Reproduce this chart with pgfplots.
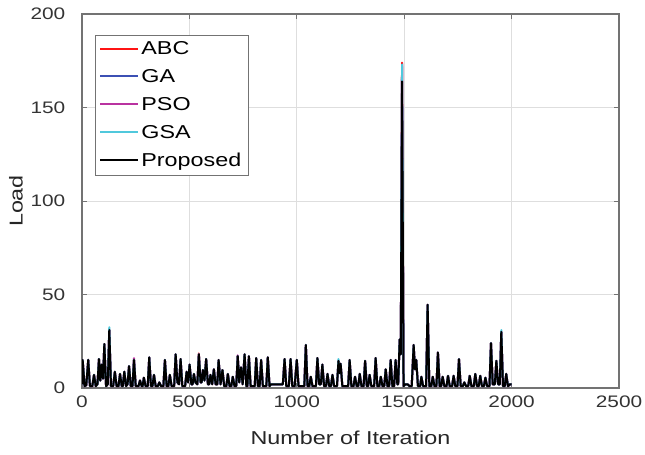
\documentclass[border=0pt]{standalone}
\usepackage{fontspec}
\setmainfont[FakeStretch=1.25]{Liberation Sans}
\usepackage{pgfplots}
\usepackage{pgfplotstable}
\pgfplotsset{compat=1.18}
\definecolor{cABC}{RGB}{255,20,20}
\definecolor{cGA}{RGB}{60,80,180}
\definecolor{cPSO}{RGB}{185,50,160}
\definecolor{cGSA}{RGB}{80,200,220}
\pgfplotstableread{
x abc ga pso gsa prop
0 2 2 2 2 2
3 15 15 15 15 15
12 1 1 1 1 1
20 1.5 1.5 1.5 1.5 1.5
29 15 15 15 15 15
37 1 1 1 1 1
48 1 1 1 1 1
56 7 7 7 7 7
64 1 1 1 1 1
72 2 2 2 2 2
79 15.5 15.5 15.5 15.5 15.5
85 4 4 4 4 4
92 12.5 12.5 12.5 12.5 12.5
98 5 5 5 5 5
104 23.5 23.5 23.5 23.5 23.5
112 1 1 1 1 1
120 2 2 2 2 2
127 31 31 31 32.5 31
135 1 1 1 1 1
145 1 1 1 1 1
153 8.7 8.7 8.7 8.7 8.7
161 1 1 1 1 1
170 1 1 1 1 1
177 7.5 7.5 7.5 7.5 7.5
185 1 1 1 1 1
190 1 1 1 1 1
197 8.7 8.7 8.7 8.7 8.7
205 1 1 1 1 1
212 2 2 2 2 2
219 11.7 11.7 11.7 11.7 11.7
227 1 1 1 1 1
235 1 1 1 1 1
242 15 15 16 15 15
250 1 1 1 1 1
263 1 1 1 1 1
270 4 4 4 4 4
278 1 1 1 1 1
282 1 1 1 1 1
288 5.5 5.5 5.5 5.5 5.5
296 1 1 1 1 1
306 1 1 1 1 1
313 16.4 16.4 16.4 16.4 16.4
321 1 1 1 1 1
328 1 1 1 1 1
335 7 7 7 7 7
343 1 1 1 1 1
353 1 1 1 1 1
360 3 3 3 3 3
368 1 1 1 1 1
379 1 1 1 1 1
386 15 15 15 15 15
394 1 1 1 1 1
402 1 1 1 1 1
409 7 7 7 7 7
417 1 1 1 1 1
429 1 1 1 1 1
436 18 18 18 18 18
444 3 3 3 3 3
452 2 2 2 2 2
459 15.5 15.5 15.5 15.5 15.5
467 1 1 1 1 1
480 1 1 1 1 1
487 8.7 8.7 8.7 8.7 8.7
494 3 3 3 3 3
501 12.5 12.5 12.5 12.5 12.5
509 2 2 2 2 2
515 2 2 2 2 2
521 7.5 7.5 7.5 7.5 7.5
528 3 3 3 3 3
537 2 2 2 2 2
544 18.5 18 18 18 18
552 3 3 3 3 3
557 3 3 3 3 3
563 9.6 9.6 9.6 9.6 9.6
570 4 4 4 4 4
578 15.5 15.5 15.5 15.5 15.5
586 2 2 2 2 2
592 2 2 2 2 2
598 7 7 7 7 7
606 2 2 2 2 2
614 10 10 10 10 10
622 2 2 2 2 2
630 2 2 2 2 2
636 15 15 15 15 15
645 2 2 2 2 2
654 9.6 9.6 9.6 9.6 9.6
662 1 1 1 1 1
672 1 1 1 1 1
679 7.5 7.5 7.5 7.5 7.5
687 1 1 1 1 1
695 1 1 1 1 1
702 6 6 6 6 6
710 1 1 1 1 1
718 1 1 1 1 1
725 17 17 17.5 17 17
732 3 3 3 3 3
740 11 11 11 11 11
748 2 2 2 2 2
757 18 18 18 18 18
765 1 1 1 1 1
770 1 1 1 1 1
777 17 17 17 17 17
785 1 1 1 1 1
804 1 1 1 1 1
811 16 16 16 16 16
819 1 1 1 1 1
827 1 1 1 1 1
834 15 15 15 15 15
842 1 1 1 1 1
858 1 1 1 1 1
865 16.4 16.4 16.4 16.4 16.4
873 1 1 1 1 1
880 2 2 2 2 2
935 2 2 2 2 2
943 15.5 15.5 15.5 15.5 15.5
951 1 1 1 1 1
963 1 1 1 1 1
971 15.5 15.5 15.5 15.5 15.5
979 1 1 1 1 1
990 1 1 1 1 1
1000 15 15 15 15 15
1008 1 1 1 1 1
1035 1 1 1 1 1
1042 23 23 23 23 23
1050 1 1 1 1 1
1058 1 1 1 1 1
1065 6 6 6 6 6
1073 1 1 1 1 1
1089 1 1 1 1 1
1096 16 16 16 16 16
1104 2 2 2 2 2
1112 2 2 2 2 2
1119 12.5 12.5 12.5 12.5 12.5
1127 1 1 1 1 1
1136 1 1 1 1 1
1143 7.5 7.5 7.5 7.5 7.5
1151 1 1 1 1 1
1159 1 1 1 1 1
1166 7 7 7 7 7
1174 1 1 1 1 1
1187 1 1 1 1 1
1194 14.5 14.5 14.5 15.5 14.5
1199 8 8 8 8 8
1204 13 13 13 13 13
1212 1 1 1 1 1
1239 1 1 1 1 1
1246 15 15 15 15 15
1254 1 1 1 1 1
1264 1 1 1 1 1
1271 6 6 6 6 6
1279 1 1 1 1 1
1286 1 1 1 1 1
1293 7.5 7.5 7.5 7.5 7.5
1301 1 1 1 1 1
1311 1 1 1 1 1
1318 14.5 14.5 14.5 14.5 14.5
1326 1 1 1 1 1
1332 1 1 1 1 1
1339 7 7 7 7 7
1347 1 1 1 1 1
1360 1 1 1 1 1
1367 16 16 16 16 16
1375 1 1 1 1 1
1384 1 1 1 1 1
1391 6 6 6 6 6
1399 1 1 1 1 1
1407 1 1 1 1 1
1414 10 10 10 10 10
1422 1 1 1 1 1
1430 1 1 1 1 1
1437 15 15 15 15 15
1445 1 1 1 1 1
1453 1 1 1 1 1
1460 15 15 15 15 15
1468 2 2 2 2 2
1472 2 2 2 2 2
1479 26 26 26 26 26
1484 18 18 18 18 18
1490 174 172 173 173 164
1497 1 1 1 1 1
1505 2 2 2 2 2
1515 2 2 2 2 2
1525 1 1 1 1 1
1535 1 1 1 1 1
1544 23 23 23 23 23
1550 10 10 10 10 10
1556 15 15 15 15 15
1564 1 1 1 1 1
1574 1 1 1 1 1
1580 6 6 6 6 6
1588 1 1 1 1 1
1602 1 1 1 1 1
1609 44.5 44.5 44.5 44.5 44.5
1617 1 1 1 1 1
1626 1 1 1 1 1
1633 6 6 6 6 6
1641 1 1 1 1 1
1650 1 1 1 1 1
1657 19 19 19 19 19
1665 1 1 1 1 1
1672 1 1 1 1 1
1679 6 6 6 6 6
1687 1 1 1 1 1
1697 1 1 1 1 1
1704 6.5 6.5 6.5 6.5 6.5
1712 1 1 1 1 1
1723 1 1 1 1 1
1730 6.5 6.5 6.5 6.5 6.5
1738 1 1 1 1 1
1748 1 1 1 1 1
1755 15.4 15.4 15.4 15.4 15.4
1763 1 1 1 1 1
1773 1 1 1 1 1
1780 3 3 3 3 3
1788 1 1 1 1 1
1798 1 1 1 1 1
1805 6.5 6.5 6.5 6.5 6.5
1813 1 1 1 1 1
1824 1 1 1 1 1
1831 7.5 7.5 7.5 7.5 7.5
1839 1 1 1 1 1
1847 1 1 1 1 1
1854 6.5 6.5 6.5 6.5 6.5
1862 1 1 1 1 1
1871 1 1 1 1 1
1878 5.5 5.5 5.5 5.5 5.5
1886 1 1 1 1 1
1897 1 1 1 1 1
1904 24 24 24 24 24
1912 2 2 2 2 2
1922 2 2 2 2 2
1929 14.5 14.5 14.5 14.5 14.5
1937 2 2 2 2 2
1945 2 2 2 2 2
1952 30 30 30 31 30
1960 1 1 1 1 1
1968 1 1 1 1 1
1975 7.5 7.5 7.5 7.5 7.5
1983 1 1 1 1 1
1993 2 2 2 2 2
2000 2 2 2 2 2
}\loadtable
\begin{document}
\begin{tikzpicture}
\begin{axis}[
  scale only axis,
  width=402.75pt, height=280.5pt,
  xmin=0, xmax=2500, ymin=0, ymax=200,
  xtick={0,500,1000,1500,2000,2500},
  ytick={0,50,100,150,200},
  /pgf/number format/assume math mode=true,
  /pgf/number format/1000 sep={},
  scaled x ticks=false,
  xticklabel style={font=\fontsize{12.5}{15}\selectfont, color=black!80, yshift=-2pt},
  yticklabel style={font=\fontsize{12.5}{15}\selectfont, color=black!80, xshift=-9pt},
  grid=major,
  grid style={black!13, line width=0.5pt},
  axis line style={black!55, line width=0.8pt},
  tick style={black!55, line width=0.6pt},
  major tick length=4pt,
  tick align=inside,
  xlabel={Number of Iteration},
  ylabel={Load},
  label style={font=\fontsize{14}{17}\selectfont, color=black!85},
  xlabel style={at={(axis description cs:0.5,-0.1337)}, anchor=center},
  ylabel style={at={(axis description cs:-0.1229,0.5)}, anchor=center},
  legend style={at={(axis description cs:0.0242,0.944)}, anchor=north west,
    draw=black!55, fill=white, font=\fontsize{14}{17}\selectfont,
    row sep=5.5pt, inner sep=3pt},
  legend cell align=left,
  legend image code/.code={\draw[#1, line width=1.6pt] (0pt,0.6pt) -- (28pt,0.6pt);},
]
\addplot[cABC, no markers, line width=1.5pt, line join=round] table[x=x, y=abc] {\loadtable};
\addlegendentry{ABC}
\addplot[cGA, no markers, line width=1.5pt, line join=round] table[x=x, y=ga] {\loadtable};
\addlegendentry{GA}
\addplot[cPSO, no markers, line width=1.5pt, line join=round] table[x=x, y=pso] {\loadtable};
\addlegendentry{PSO}
\addplot[cGSA, no markers, line width=1.5pt, line join=round] table[x=x, y=gsa] {\loadtable};
\addlegendentry{GSA}
\addplot[black, no markers, line width=1.5pt, line join=round] table[x=x, y=prop] {\loadtable};
\addlegendentry{Proposed}
\end{axis}
\pgfresetboundingbox
\path ([shift={(-61.5pt,-49.5pt)}]current axis.south west) rectangle ([shift={(19.5pt,10.5pt)}]current axis.north east);
\end{tikzpicture}
\end{document}
